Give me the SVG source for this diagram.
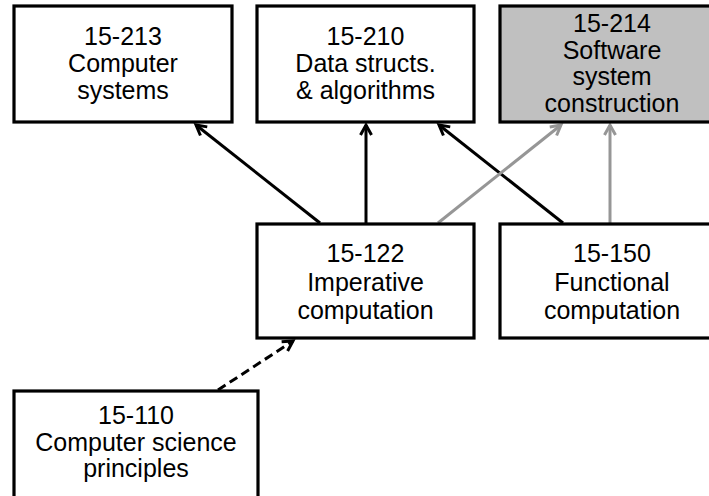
<svg xmlns="http://www.w3.org/2000/svg" width="709" height="496" viewBox="0 0 709 496">
<defs>
<style>
.box{fill:#ffffff;stroke:#000000;stroke-width:3.2}
.gray{fill:#c0c0c0}
.t{font-family:"Liberation Sans",Arial,sans-serif;font-size:25px;fill:#000000;text-anchor:middle}
.c{fill:none;stroke-width:3}
.blk{stroke:#000000}
.gr{stroke:#969696}
</style>
<marker id="ab" markerUnits="userSpaceOnUse" markerWidth="16" markerHeight="16" refX="12" refY="7" orient="auto" viewBox="0 0 16 16">
<path d="M2,1.5 L12,7 L2,12.5" fill="none" stroke="#000000" stroke-width="3"/>
</marker>
<marker id="ag" markerUnits="userSpaceOnUse" markerWidth="16" markerHeight="16" refX="12" refY="7" orient="auto" viewBox="0 0 16 16">
<path d="M2,1.5 L12,7 L2,12.5" fill="none" stroke="#969696" stroke-width="3"/>
</marker>
</defs>
<rect width="709" height="496" fill="#ffffff"/>
<g id="connectors">
<line class="c blk" x1="320" y1="223" x2="196" y2="125" marker-end="url(#ab)"/>
<line class="c blk" x1="366" y1="223" x2="366" y2="125" marker-end="url(#ab)"/>
<line class="c blk" x1="563" y1="223" x2="439" y2="125" marker-end="url(#ab)"/>
<line class="c gr" x1="438" y1="223" x2="561" y2="125" marker-end="url(#ag)"/>
<line class="c gr" x1="610" y1="223" x2="610" y2="125" marker-end="url(#ag)"/>
<line class="c blk" x1="218" y1="390" x2="293" y2="341" stroke-dasharray="9,5" marker-end="url(#ab)"/>
</g>
<g id="n15-213">
<rect class="box" x="14" y="6" width="218" height="116"/>
<text class="t" x="123" y="45">15-213</text>
<text class="t" x="123" y="72">Computer</text>
<text class="t" x="123" y="99">systems</text>
</g>
<g id="n15-210">
<rect class="box" x="257" y="6" width="217" height="116"/>
<text class="t" x="365.5" y="45">15-210</text>
<text class="t" x="365.5" y="72">Data structs.</text>
<text class="t" x="365.5" y="99">&amp; algorithms</text>
</g>
<g id="n15-214">
<rect class="box gray" x="500" y="6" width="228" height="116"/>
<text class="t" x="612" y="32">15-214</text>
<text class="t" x="612" y="58.5">Software</text>
<text class="t" x="612" y="85">system</text>
<text class="t" x="612" y="112">construction</text>
</g>
<g id="n15-122">
<rect class="box" x="257" y="224" width="217" height="114"/>
<text class="t" x="365.5" y="262">15-122</text>
<text class="t" x="365.5" y="291">Imperative</text>
<text class="t" x="365.5" y="319">computation</text>
</g>
<g id="n15-150">
<rect class="box" x="500" y="224" width="228" height="114"/>
<text class="t" x="612" y="262">15-150</text>
<text class="t" x="612" y="291">Functional</text>
<text class="t" x="612" y="319">computation</text>
</g>
<g id="n15-110">
<rect class="box" x="14" y="391" width="244" height="120"/>
<text class="t" x="136" y="424">15-110</text>
<text class="t" x="136" y="451">Computer science</text>
<text class="t" x="136" y="477">principles</text>
</g>
</svg>
